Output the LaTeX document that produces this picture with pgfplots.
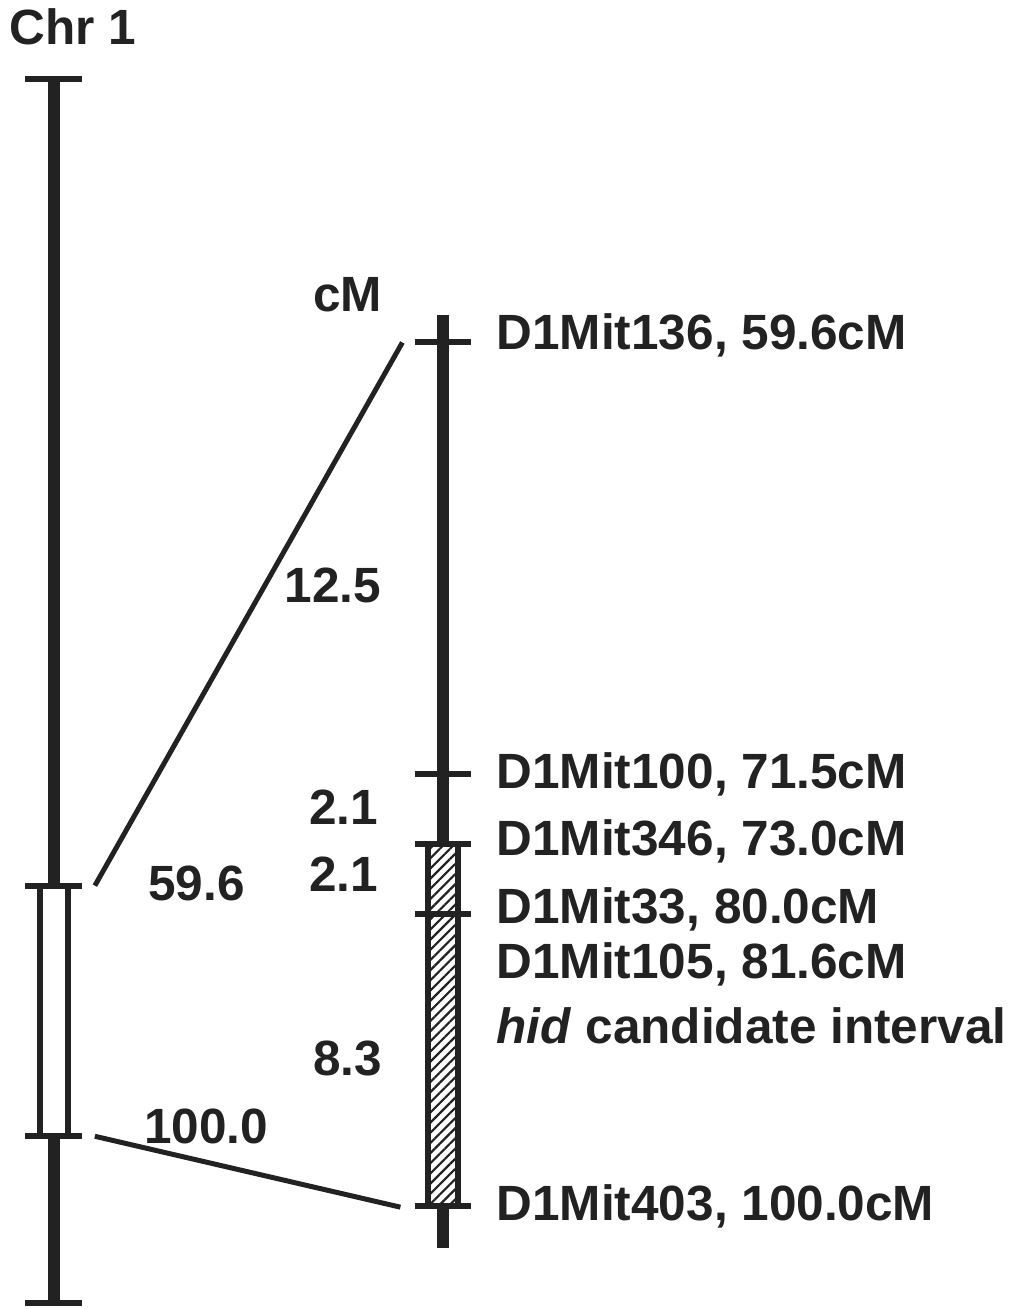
\documentclass[border=0pt]{standalone}
\usepackage{pgfplots}
\pgfplotsset{compat=1.18}
\usepackage{fontspec}
\setmainfont{Liberation Sans}
\usetikzlibrary{patterns.meta}
\definecolor{ink}{HTML}{222222}
\tikzset{lab/.style={font=\fontsize{24.8}{29}\selectfont\bfseries, text=ink, inner sep=0pt}}
\begin{document}
\begin{tikzpicture}
\begin{axis}[
  width=507.5pt, height=654.5pt, scale only axis,
  xmin=0, xmax=1015, ymin=0, ymax=1309, y dir=reverse,
  hide axis, clip=false,
  every axis plot/.append style={ink, no markers},
]
% frame of the picture (invisible)
\addplot[draw=none] coordinates {(0,0) (1015,1309)};
% left chromosome
\addplot[line width=6pt] coordinates {(54,79) (54,887)};
\addplot[line width=6pt] coordinates {(54,1138) (54,1305)};
\addplot[line width=3pt] coordinates {(25,79) (82,79)};
\addplot[line width=3pt] coordinates {(25,887) (82,887)};
\addplot[line width=3pt] coordinates {(25,1138) (82,1138)};
\addplot[line width=3pt] coordinates {(25,1305) (82,1305)};
\addplot[line width=3pt, fill=white] coordinates {(40,887) (68,887) (68,1138) (40,1138)} -- cycle;
% connecting lines
\addplot[line width=2.5pt] coordinates {(95,887) (403,343)};
\addplot[line width=2.5pt] coordinates {(95,1138) (401,1209)};
% right chromosome
\addplot[line width=6pt] coordinates {(444,315) (444,845)};
\addplot[line width=6pt] coordinates {(444,1208) (444,1250)};
\addplot[line width=3pt, fill=white, postaction={pattern={Lines[angle=45,distance=3.6pt,line width=1.1pt]}, pattern color=ink}] coordinates {(429,845) (459,845) (459,1208) (429,1208)} -- cycle;
\addplot[line width=3pt] coordinates {(416,343) (472,343)};
\addplot[line width=3pt] coordinates {(416,775) (472,775)};
\addplot[line width=3pt] coordinates {(416,845) (472,845)};
\addplot[line width=3pt] coordinates {(416,915) (472,915)};
\addplot[line width=3pt] coordinates {(416,1208) (472,1208)};
% labels
\node[lab, anchor=base] at (axis cs:73,45) {Chr 1};
\node[lab, anchor=base east] at (axis cs:383,312) {cM};
\node[lab, anchor=base east] at (axis cs:382,603) {12.5};
\node[lab, anchor=base east] at (axis cs:379,826) {2.1};
\node[lab, anchor=base east] at (axis cs:379,893) {2.1};
\node[lab, anchor=base east] at (axis cs:383,1077) {8.3};
\node[lab, anchor=base west] at (axis cs:148,902) {59.6};
\node[lab, anchor=base west] at (axis cs:144,1145) {100.0};
\node[lab, anchor=base west] at (axis cs:497,350) {D1Mit136, 59.6cM};
\node[lab, anchor=base west] at (axis cs:497,790) {D1Mit100, 71.5cM};
\node[lab, anchor=base west] at (axis cs:497,857) {D1Mit346, 73.0cM};
\node[lab, anchor=base west] at (axis cs:497,925) {D1Mit33, 80.0cM};
\node[lab, anchor=base west] at (axis cs:497,980) {D1Mit105, 81.6cM};
\node[lab, anchor=base west] at (axis cs:497,1045) {\textit{hid} candidate interval};
\node[lab, anchor=base west] at (axis cs:497,1222) {D1Mit403, 100.0cM};
\end{axis}
\end{tikzpicture}
\end{document}
